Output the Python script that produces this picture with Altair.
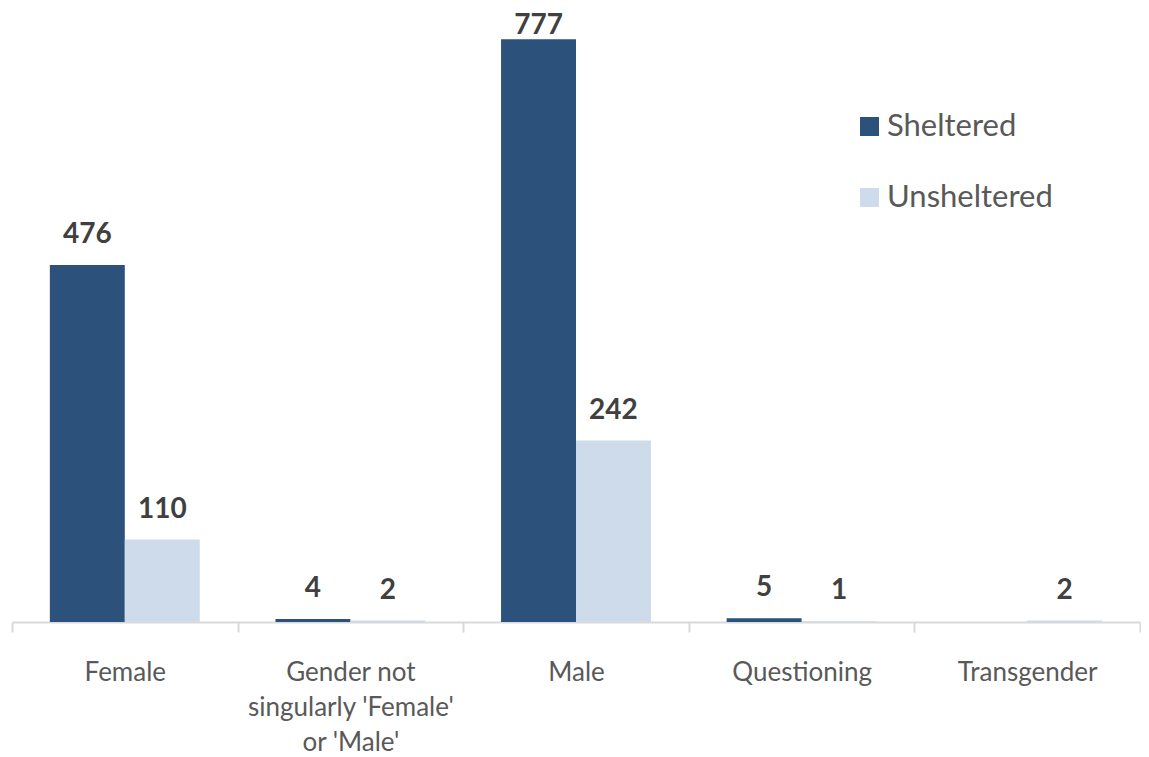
import altair as alt
import pandas as pd

categories = ["Female", "Gender not singularly 'Female' or 'Male'", "Male", "Questioning", "Transgender"]
sheltered = [476, 4, 777, 5, None]
unsheltered = [110, 2, 242, 1, 2]
series = ["Sheltered", "Unsheltered"]
colors = ["#2C517A", "#CDDBEB"]

rows = []
for c, s, u in zip(categories, sheltered, unsheltered):
    if s is not None:
        rows.append({"category": c, "status": "Sheltered", "value": s})
    if u is not None:
        rows.append({"category": c, "status": "Unsheltered", "value": u})
df = pd.DataFrame(rows)

FONT = "Lato"
label_expr = ('indexof(datum.label, "Gender") == 0 ? '
              '["Gender not", "singularly \'Female\'", "or \'Male\'"] : datum.label')

x = alt.X("category:N", sort=categories, title=None,
          scale=alt.Scale(paddingInner=0, paddingOuter=0),
          axis=alt.Axis(labelAngle=0, labelFont=FONT, labelFontSize=26, labelColor="#595959",
                        labelLineHeight=35, labelPadding=27, labelExpr=label_expr, labelLimit=0,
                        domainColor="#D9D9D9", domainWidth=2, tickColor="#D9D9D9",
                        tickWidth=2, tickSize=10, tickBand="extent", labelBaseline="top"))
xo = alt.XOffset("status:N", sort=series,
                 scale=alt.Scale(domain=series, paddingOuter=0.505, paddingInner=0))
y = alt.Y("value:Q", scale=alt.Scale(domain=[0, 800], nice=False), axis=None)

bars = alt.Chart(df).mark_bar().encode(
    x=x, xOffset=xo, y=y,
    color=alt.Color("status:N", sort=series,
                    scale=alt.Scale(domain=series, range=colors),
                    legend=alt.Legend(title=None, orient="none", legendX=842, legendY=89,
                                      symbolType="square", symbolSize=361, symbolStrokeWidth=0,
                                      labelFont=FONT, labelFontSize=31, labelColor="#595959",
                                      labelLimit=0, rowPadding=39, labelOffset=2)),
)

text_style = dict(baseline="bottom", font=FONT, fontSize=28, fontWeight="bold", color="#404040")

text = alt.Chart(df).mark_text(dy=-16, **text_style).encode(
    x=x, xOffset=xo, y=y, text="value:Q"
).transform_filter("datum.value < 700")

text_top = alt.Chart(df).mark_text(dy=1, **text_style).encode(
    x=x, xOffset=xo, y=y, text="value:Q"
).transform_filter("datum.value >= 700")

chart = (bars + text + text_top).properties(
    width=1128, height=600,
    background="white",
    autosize=alt.AutoSizeParams(type="none"),
    padding={"left": 4, "top": 14, "right": 1, "bottom": 135},
).configure_view(strokeWidth=0, stroke=None)

chart.save("out.html", embed_options={"renderer": "svg", "actions": False})
